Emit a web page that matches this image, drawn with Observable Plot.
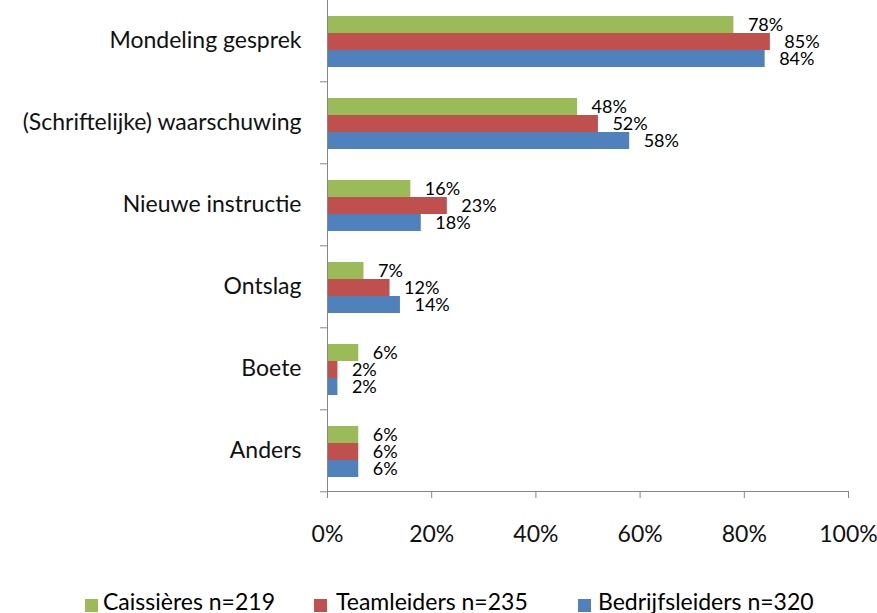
<!DOCTYPE html>
<html>
<head>
<meta charset="utf-8">
<script src="https://cdn.jsdelivr.net/npm/d3@7"></script>
<script src="https://cdn.jsdelivr.net/npm/@observablehq/plot@0.6"></script>
<style>
  html, body { margin: 0; padding: 0; background: #fff; overflow: hidden; }
  body { width: 877px; height: 613px; font-family: Lato, "Open Sans", sans-serif; }
  #chart svg { display: block; }
  #legend { position: relative; height: 24px; width: 877px; font-size: 23px; line-height: 25px; color: #000; }
  #legend .sw { position: absolute; top: 10px; width: 13px; height: 13px; }
  #legend .lb { position: absolute; top: 0; white-space: nowrap; }
</style>
</head>
<body>
<div id="chart"></div>
<div id="legend"></div>
<script>
const categories = ["Mondeling gesprek", "(Schriftelijke) waarschuwing", "Nieuwe instructie", "Ontslag", "Boete", "Anders"];
const series = ["Caissières n=219", "Teamleiders n=235", "Bedrijfsleiders n=320"];
const caissieres = [78, 48, 16, 7, 6, 6];
const teamleiders = [85, 52, 23, 12, 2, 6];
const bedrijfsleiders = [84, 58, 18, 14, 2, 6];
const xTicks = [0, 20, 40, 60, 80, 100];
const colors = ["#9BBB59", "#C0504D", "#4F81BD"];

const seriesValues = [caissieres, teamleiders, bedrijfsleiders];
const data = categories.flatMap((c, i) =>
  series.map((s, j) => ({category: c, series: s, value: seriesValues[j][i]}))
);

const axisGray = "#868686";

const chart = Plot.plot({
  width: 877,
  height: 589,
  marginLeft: 327,
  marginRight: 29,
  marginTop: 12,
  marginBottom: 96,
  style: {fontFamily: "Lato, 'Open Sans', sans-serif", background: "#fff", color: "#000"},
  x: {domain: [0, 100], axis: null},
  fy: {domain: categories, range: [-2.6, 493], padding: 0, axis: null},
  y: {domain: series, paddingInner: 0, paddingOuter: 0.847, align: 0.564, axis: null},
  color: {domain: series, range: colors},
  marks: [
    Plot.barX(data, {fy: "category", y: "series", x: "value", fill: "series"}),
    Plot.text(data, {
      fy: "category", y: "series", x: "value",
      text: d => d.value + "%",
      dx: 14, textAnchor: "start", fontSize: 18, fill: "#000"
    }),
    Plot.frame({anchor: "left", stroke: axisGray, facet: "super"}),
    Plot.frame({anchor: "bottom", stroke: axisGray, facet: "super"}),
    Plot.axisX({
      ticks: xTicks, tickFormat: d => d + "%",
      tickSize: 7, tickPadding: 27, fontSize: 23,
      stroke: axisGray, fill: "#111", label: null
    }),
    Plot.axisFy({
      anchor: "left", tickSize: 0, tickPadding: 26, fontSize: 23,
      fill: "#111", label: null
    }),
    Plot.axisFy({
      anchor: "left", text: null, tickSize: 7, dy: 41.3,
      stroke: axisGray, label: null
    })
  ]
});
document.getElementById("chart").appendChild(chart);

const legendPos = [{sw: 85, lb: 103}, {sw: 314, lb: 336}, {sw: 578, lb: 598}];
const legend = document.getElementById("legend");
series.forEach((s, i) => {
  const sw = document.createElement("div");
  sw.className = "sw";
  sw.style.left = legendPos[i].sw + "px";
  sw.style.background = colors[i];
  legend.appendChild(sw);
  const lb = document.createElement("div");
  lb.className = "lb";
  lb.style.left = legendPos[i].lb + "px";
  lb.textContent = s;
  legend.appendChild(lb);
});
</script>
</body>
</html>
